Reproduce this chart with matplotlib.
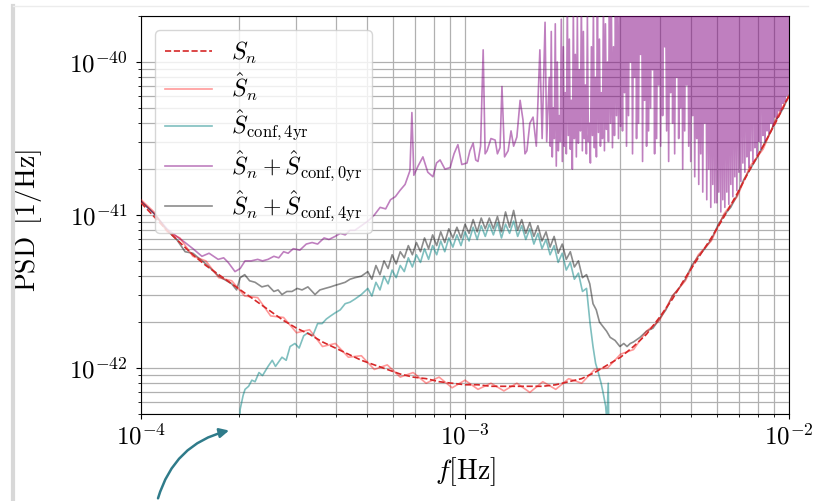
import numpy as np
import matplotlib
matplotlib.use("Agg")
import matplotlib.pyplot as plt
from matplotlib.patches import FancyArrowPatch
from matplotlib.lines import Line2D

plt.rcParams["mathtext.fontset"] = "cm"
plt.rcParams["font.family"] = "serif"
plt.rcParams["font.serif"] = ["cmr10", "DejaVu Serif"]
plt.rcParams["axes.formatter.use_mathtext"] = True
plt.rcParams["path.simplify"] = False  # keep the dense noisy traces as drawn

# sampling grid for the smooth model and its noisy estimate (log10 Hz)
grid_logf = np.linspace(-4.0, -2.0, 51)

# S_n, log10 PSD [1/Hz]
sn_logS = [-40.92, -41.01, -41.10, -41.18, -41.26, -41.33, -41.39, -41.45, -41.51, -41.57,
           -41.63, -41.69, -41.74, -41.78, -41.83, -41.87, -41.91, -41.95, -41.98, -42.01,
           -42.04, -42.06, -42.07, -42.09, -42.10, -42.11, -42.11, -42.12, -42.12, -42.12,
           -42.12, -42.12, -42.11, -42.09, -42.07, -42.03, -41.98, -41.93, -41.86, -41.78,
           -41.67, -41.55, -41.41, -41.28, -41.15, -41.01, -40.86, -40.70, -40.55, -40.39,
           -40.22]

# hat S_n
shat_logS = [-40.90, -40.98, -41.11, -41.15, -41.27, -41.30, -41.41, -41.43, -41.53, -41.54,
             -41.66, -41.67, -41.77, -41.75, -41.86, -41.84, -41.93, -41.92, -42.01, -41.98,
             -42.06, -42.03, -42.10, -42.06, -42.13, -42.08, -42.14, -42.10, -42.15, -42.10,
             -42.16, -42.09, -42.14, -42.07, -42.10, -42.01, -42.00, -41.91, -41.88, -41.76,
             -41.69, -41.53, -41.43, -41.26, -41.17, -40.99, -40.88, -40.68, -40.57, -40.37,
             -40.22]

# hat S_conf,4yr
conf_logf = [-3.700, -3.694, -3.685, -3.679, -3.668, -3.658, -3.648, -3.636, -3.625, -3.608,
             -3.595, -3.585, -3.565, -3.552, -3.540, -3.525, -3.512, -3.498, -3.485, -3.470,
             -3.455, -3.441, -3.428, -3.415, -3.401, -3.385, -3.370, -3.355, -3.340, -3.320,
             -3.3000, -3.2875, -3.2750, -3.2625, -3.2500, -3.2375, -3.2250, -3.2125, -3.2000, -3.1875,
             -3.1750, -3.1625, -3.1500, -3.1375, -3.1250, -3.1125, -3.1000, -3.0875, -3.0750, -3.0625,
             -3.0500, -3.0375, -3.0250, -3.0125, -3.0000, -2.9875, -2.9750, -2.9625, -2.9500, -2.9375,
             -2.9250, -2.9125, -2.9000, -2.8875, -2.8750, -2.8625, -2.8500, -2.8375, -2.8250, -2.8125,
             -2.8000, -2.7875, -2.7750, -2.7625, -2.7500, -2.7375, -2.7250, -2.7125, -2.7000, -2.6875,
             -2.6750, -2.6625, -2.6500, -2.6375, -2.6250,
             -2.614, -2.605, -2.597, -2.590, -2.580, -2.574, -2.566, -2.562, -2.558, -2.555]
conf_logS = [-42.60, -42.27, -42.18, -42.14, -42.12, -42.08, -42.09, -42.03, -42.05, -41.99,
             -41.95, -41.99, -41.93, -41.95, -41.86, -41.84, -41.87, -41.79, -41.77, -41.79,
             -41.71, -41.71, -41.68, -41.66, -41.64, -41.62, -41.58, -41.57, -41.55, -41.52,
             -41.48, -41.53, -41.44, -41.49, -41.40, -41.45, -41.36, -41.41, -41.33, -41.37,
             -41.28, -41.34, -41.26, -41.31, -41.22, -41.29, -41.20, -41.26, -41.17, -41.24,
             -41.15, -41.21, -41.13, -41.20, -41.11, -41.17, -41.08, -41.16, -41.07, -41.14,
             -41.06, -41.13, -41.05, -41.15, -41.06, -41.12, -41.04, -41.14, -41.07, -41.16,
             -41.09, -41.19, -41.12, -41.22, -41.16, -41.26, -41.20, -41.31, -41.25, -41.36,
             -41.31, -41.42, -41.38, -41.50, -41.48,
             -41.71, -41.86, -41.97, -42.02, -42.10, -42.16, -42.25, -42.35, -42.10, -42.60]

# hat S_n + hat S_conf,4yr
gray_logf = [-4.000, -3.960, -3.920, -3.890, -3.864, -3.840, -3.800, -3.760, -3.720, -3.705,
             -3.694, -3.680, -3.665, -3.648, -3.627, -3.608, -3.590, -3.577, -3.565, -3.550,
             -3.534, -3.518, -3.503, -3.485, -3.463, -3.448, -3.432, -3.415, -3.401, -3.385,
             -3.370, -3.355, -3.340, -3.320,
             -3.3000, -3.2875, -3.2750, -3.2625, -3.2500, -3.2375, -3.2250, -3.2125, -3.2000, -3.1875,
             -3.1750, -3.1625, -3.1500, -3.1375, -3.1250, -3.1125, -3.1000, -3.0875, -3.0750, -3.0625,
             -3.0500, -3.0375, -3.0250, -3.0125, -3.0000, -2.9875, -2.9750, -2.9625, -2.9500, -2.9375,
             -2.9250, -2.9125, -2.9000, -2.8875, -2.8750, -2.8625, -2.8500, -2.8375, -2.8250, -2.8125,
             -2.8000, -2.7875, -2.7750, -2.7625, -2.7500, -2.7375, -2.7250, -2.7125, -2.7000, -2.6875,
             -2.6750, -2.6625, -2.6500, -2.6375, -2.6250,
             -2.615, -2.605, -2.595, -2.585, -2.574, -2.563, -2.552, -2.537, -2.522, -2.510,
             -2.500, -2.490, -2.480, -2.460, -2.440, -2.420, -2.400, -2.380, -2.360, -2.340,
             -2.320, -2.300, -2.280, -2.260, -2.240, -2.220, -2.200, -2.180, -2.160, -2.140,
             -2.120, -2.100, -2.080, -2.060, -2.040, -2.020, -2.000]
gray_logS = [-40.91, -40.99, -41.10, -41.16, -41.24, -41.25, -41.32, -41.40, -41.45, -41.49,
             -41.41, -41.39, -41.43, -41.44, -41.47, -41.46, -41.50, -41.49, -41.52, -41.50,
             -41.50, -41.48, -41.49, -41.47, -41.52, -41.49, -41.48, -41.47, -41.46, -41.45,
             -41.44, -41.42, -41.41, -41.40,
             -41.37, -41.42, -41.33, -41.39, -41.30, -41.35, -41.26, -41.32, -41.24, -41.28,
             -41.20, -41.26, -41.18, -41.24, -41.15, -41.22, -41.13, -41.20, -41.11, -41.18,
             -41.09, -41.15, -41.08, -41.15, -41.06, -41.12, -41.03, -41.11, -41.02, -41.09,
             -41.02, -41.09, -41.01, -41.11, -40.98, -41.08, -40.97, -41.10, -41.03, -41.12,
             -41.05, -41.14, -41.07, -41.17, -41.11, -41.21, -41.14, -41.25, -41.19, -41.29,
             -41.24, -41.34, -41.30, -41.41, -41.39,
             -41.45, -41.58, -41.62, -41.70, -41.73, -41.76, -41.80, -41.82, -41.86, -41.84,
             -41.86, -41.84, -41.83, -41.80, -41.76, -41.74, -41.68, -41.62, -41.53, -41.48,
             -41.42, -41.33, -41.27, -41.22, -41.16, -41.07, -41.00, -40.95, -40.87, -40.77,
             -40.70, -40.63, -40.55, -40.47, -40.38, -40.31, -40.22]

# hat S_n + hat S_conf,0yr, below 1.8 mHz
purple_logf = [-4.000, -3.960, -3.920, -3.890, -3.864, -3.840, -3.812, -3.790, -3.762, -3.745,
               -3.731, -3.710, -3.694, -3.679, -3.660, -3.640, -3.625, -3.608, -3.590, -3.575,
               -3.560, -3.546, -3.530, -3.510, -3.490, -3.472, -3.455, -3.435, -3.420, -3.401,
               -3.385, -3.370, -3.355, -3.340, -3.320, -3.300, -3.280, -3.262, -3.245, -3.230,
               -3.215, -3.201, -3.185, -3.170, -3.164, -3.158, -3.145, -3.130, -3.115, -3.099,
               -3.088, -3.077, -3.062, -3.046, -3.034, -3.022, -3.010, -2.994, -2.985, -2.975,
               -2.967, -2.960, -2.952, -2.944, -2.938, -2.932, -2.920, -2.907, -2.900, -2.892,
               -2.886, -2.878, -2.867, -2.858, -2.850, -2.840, -2.830, -2.821, -2.815, -2.809,
               -2.800, -2.790, -2.780, -2.769, -2.762, -2.753, -2.748]
purple_logS = [-40.91, -40.99, -41.09, -41.14, -41.18, -41.22, -41.27, -41.25, -41.29, -41.28,
               -41.31, -41.37, -41.35, -41.30, -41.30, -41.29, -41.30, -41.29, -41.27, -41.28,
               -41.24, -41.25, -41.22, -41.23, -41.19, -41.18, -41.19, -41.15, -41.16, -41.14,
               -41.12, -41.13, -41.10, -41.10, -41.07, -41.04, -41.00, -40.95, -40.96, -40.90,
               -40.88, -40.84, -40.80, -40.71, -40.33, -40.74, -40.68, -40.62, -40.72, -40.75,
               -40.66, -40.64, -40.70, -40.69, -40.60, -40.54, -40.67, -40.66, -40.58, -40.53,
               -40.64, -40.65, -40.55, -39.92, -40.60, -40.58, -40.50, -40.51, -40.60, -40.56,
               -40.16, -40.62, -40.58, -40.45, -40.55, -40.49, -40.25, -40.38, -40.60, -40.58,
               -40.40, -40.36, -40.55, -39.92, -40.50, -39.74, -40.52]

# same series above 1.8 mHz: dense band, alternating peak / trough values
purple_hf_peaks = [
    -40.10, -39.80, -40.30, -39.75, -40.00, -40.35, -39.72, -39.90, -40.20, -39.60,
    -39.85, -40.25, -39.65, -39.95, -39.70, -40.05, -39.60, -39.80, -40.15, -39.70,
    -40.40, -39.90, -39.65, -40.10, -39.55, -39.85, -40.20, -39.60, -39.75, -40.00,
    -39.50, -39.70, -39.90, -39.55, -39.60, -39.65,
    -39.50, -39.30, -39.45, -39.60, -39.35, -39.40, -39.55, -39.30, -39.45, -39.40,
    -39.35, -39.50, -39.30, -39.45, -39.60, -39.35, -39.40, -39.30, -39.50, -39.45,
    -39.35, -39.40, -39.55, -39.30, -39.45, -39.35, -39.40, -39.50, -39.30, -39.45,
    -39.35, -39.60, -39.40, -39.30, -39.50, -39.35, -39.45, -39.40, -39.30, -39.55,
    -39.35, -39.45, -39.40, -39.30, -39.50, -39.35, -39.40,
    -39.40, -39.30, -39.45, -39.35, -39.40, -39.30, -39.50, -39.35, -39.40, -39.30,
    -39.45, -39.35, -39.40, -39.30, -39.45, -39.35, -39.40, -39.30, -39.50, -39.35,
    -39.40, -39.30, -39.45, -39.35, -39.40, -39.30, -39.45, -39.35, -39.40, -39.30,
    -39.45, -39.35, -39.40, -39.30, -39.45, -39.35, -39.40]
purple_hf_troughs = [
    -40.55, -40.62, -40.50, -40.68, -40.58, -40.52, -40.65, -40.55, -40.60, -40.48,
    -40.57, -40.70, -40.50, -40.62, -40.53, -40.45, -40.58, -40.50, -40.60, -40.52,
    -40.66, -40.48, -40.56, -40.62, -40.46, -40.55, -40.50, -40.58, -40.44, -40.52,
    -40.40, -40.56, -40.48, -40.35, -40.50, -40.42,
    -40.45, -40.20, -40.55, -40.35, -40.00, -40.60, -40.10, -40.50, -40.40, -39.95,
    -40.65, -40.25, -40.55, -40.45, -40.30, -40.05, -40.60, -40.50, -40.15, -40.55,
    -40.35, -39.90, -40.45, -40.65, -40.20, -40.40, -40.60, -40.10, -40.50, -40.30,
    -40.70, -40.45, -40.15, -40.55, -40.65, -40.35, -40.75, -40.50, -40.80, -40.60,
    -40.85, -40.40, -40.90, -40.70, -40.95, -40.80, -40.92,
    -40.92, -40.85, -40.98, -40.90, -40.95, -40.85, -40.93, -40.80, -40.88, -40.75,
    -40.84, -40.72, -40.78, -40.66, -40.72, -40.62, -40.69, -40.58, -40.65, -40.56,
    -40.61, -40.52, -40.57, -40.48, -40.52, -40.45, -40.47, -40.40, -40.42, -40.36,
    -40.37, -40.32, -40.32, -40.27, -40.26, -40.22, -40.21]

x_ticks = [1e-4, 1e-3, 1e-2]
y_lim = (5e-43, 2e-40)

# interleave peaks and troughs on an even log-frequency grid
purple_hf_logf = np.linspace(-2.74, -2.0, 2 * len(purple_hf_peaks))
purple_hf_logS = np.empty(len(purple_hf_logf))
purple_hf_logS[0::2] = purple_hf_peaks
purple_hf_logS[1::2] = purple_hf_troughs
purple_all_logf = np.concatenate([purple_logf, purple_hf_logf])
purple_all_logS = np.concatenate([purple_logS, purple_hf_logS])

fig = plt.figure(figsize=(8.19, 5.01), dpi=100)
ax = fig.add_axes([0.1722, 0.1737, 0.7912, 0.7943])

lw = 1.2
ax.plot(10 ** grid_logf, 10.0 ** np.array(sn_logS), color="#d62728", ls="--", lw=lw, label=r"$S_n$", zorder=5)
ax.plot(10 ** grid_logf, 10.0 ** np.array(shat_logS), color="red", alpha=0.4, lw=lw, label=r"$\hat{S}_n$", zorder=4)
ax.plot(10 ** np.array(conf_logf), 10.0 ** np.array(conf_logS), color="teal", alpha=0.5, lw=lw,
        label=r"$\hat{S}_{\rm conf,4yr}$", zorder=3)
ax.plot(10 ** purple_all_logf, 10.0 ** purple_all_logS, color="purple", alpha=0.5, lw=lw,
        label=r"$\hat{S}_n+\hat{S}_{\rm conf,0yr}$", zorder=3)
ax.plot(10 ** np.array(gray_logf), 10.0 ** np.array(gray_logS), color="k", alpha=0.45, lw=lw,
        label=r"$\hat{S}_n+\hat{S}_{\rm conf,4yr}$", zorder=3)

ax.set_xscale("log")
ax.set_yscale("log")
ax.set_xlim(x_ticks[0], x_ticks[-1])
ax.set_ylim(*y_lim)
ax.grid(True, which="both", color="#b0b0b0", lw=0.9, zorder=0)
ax.set_axisbelow(True)
ax.tick_params(labelsize=18)
ax.tick_params(axis="y", pad=6)
ax.set_xlabel(r"$f[\mathrm{Hz}]$", fontsize=20)
ax.set_ylabel(r"$\mathrm{PSD}\ \,[1/\mathrm{Hz}]$", fontsize=20)
ax.yaxis.set_label_coords(-0.150, 0.485)

leg = ax.legend(loc="upper left", fontsize=17, handlelength=2.0, labelspacing=0.2, borderaxespad=0.6)

# slide frame and pointer arrow
fig.add_artist(Line2D([0.016, 0.016], [0.0, 0.988], color="#d8d8d8", lw=3))
fig.add_artist(Line2D([0.016, 0.986], [0.988, 0.988], color="#ececec", lw=1))
arrow = FancyArrowPatch((0.192, 0.0), (0.283, 0.142), transform=fig.transFigure,
                        connectionstyle="arc3,rad=-0.3", arrowstyle="-|>", mutation_scale=14,
                        color="#2f7b8a", lw=1.8)
fig.add_artist(arrow)

fig.savefig("out.png", dpi=100)
